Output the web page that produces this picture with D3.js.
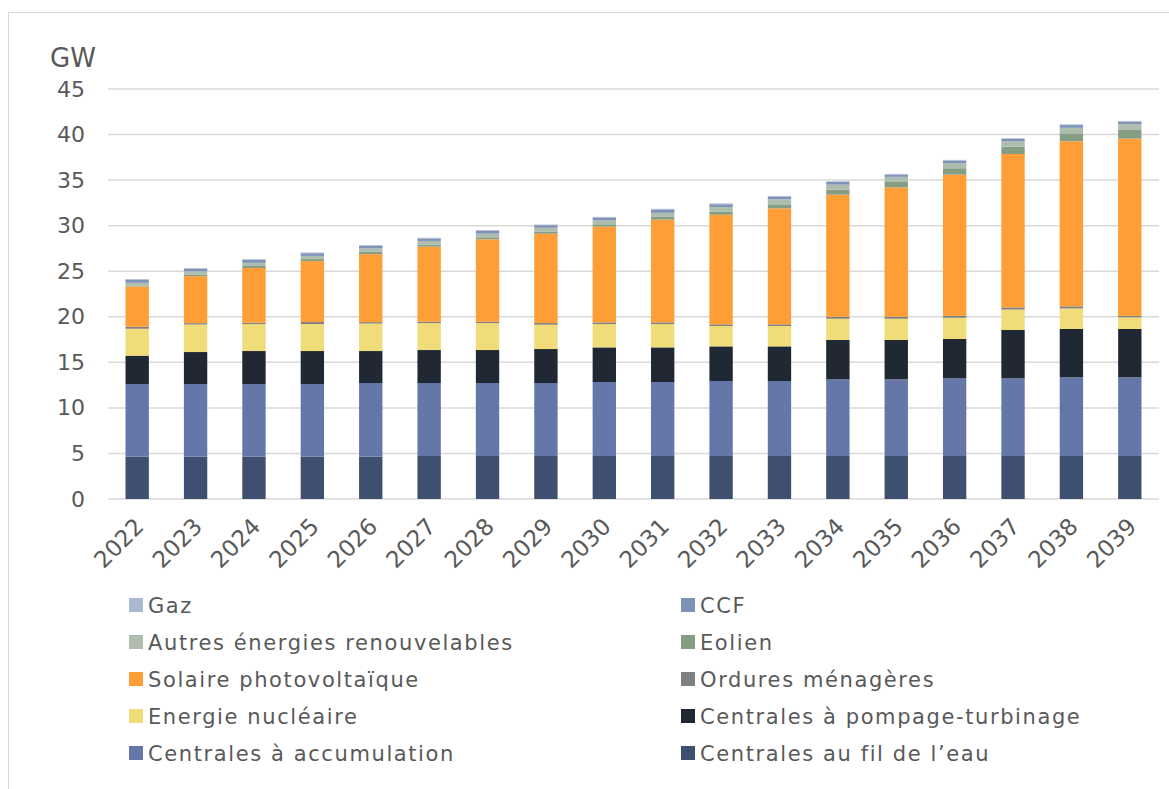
<!DOCTYPE html>
<html>
<head>
<meta charset="utf-8">
<script src="https://cdn.jsdelivr.net/npm/d3@7"></script>
<style>
  body { margin: 0; background: #fff; }
  svg { font-family: "DejaVu Sans", Verdana, sans-serif; }
</style>
</head>
<body>
<svg id="chart" width="1169" height="789"></svg>
<script>
// years on the x axis
let years = ["2022","2023","2024","2025","2026","2027","2028","2029","2030",
             "2031","2032","2033","2034","2035","2036","2037","2038","2039"];

// installed capacity, GW
let filEau       = [4.64,4.64,4.64,4.64,4.66,4.72,4.72,4.72,4.72,4.72,4.72,4.72,4.72,4.72,4.72,4.72,4.72,4.72];
let accumulation = [7.98,7.98,7.98,7.98,8.07,8.01,8.01,8.01,8.12,8.12,8.23,8.23,8.41,8.41,8.52,8.52,8.63,8.63];
let pompage      = [3.11,3.51,3.62,3.62,3.51,3.62,3.62,3.73,3.80,3.80,3.80,3.80,4.32,4.32,4.32,5.31,5.31,5.31];
let nucleaire    = [2.96,3.02,2.96,2.96,3.02,2.96,2.96,2.67,2.56,2.56,2.24,2.24,2.34,2.34,2.34,2.25,2.26,1.28];
let ordures      = [0.22,0.15,0.15,0.22,0.15,0.15,0.15,0.18,0.18,0.18,0.18,0.18,0.21,0.21,0.2,0.23,0.22,0.16];
let solaire      = [4.42,5.16,6.00,6.69,7.46,8.24,9.04,9.81,10.52,11.28,12.03,12.73,13.40,14.20,15.50,16.84,18.12,19.46];
let eolien       = [0.10,0.18,0.22,0.22,0.26,0.22,0.22,0.20,0.25,0.30,0.35,0.44,0.55,0.59,0.70,0.80,0.88,0.95];
let autres       = [0.30,0.35,0.35,0.35,0.37,0.40,0.40,0.45,0.45,0.45,0.50,0.55,0.55,0.57,0.57,0.59,0.60,0.64];
let ccf          = [0.33,0.28,0.33,0.30,0.30,0.28,0.30,0.28,0.28,0.32,0.30,0.30,0.30,0.25,0.28,0.26,0.30,0.26];
let gaz          = [0.08,0.08,0.07,0.07,0.07,0.07,0.09,0.07,0.09,0.12,0.09,0.07,0.07,0.07,0.07,0.07,0.07,0.09];

let yTicks = [0,5,10,15,20,25,30,35,40,45];

// bottom to top
let series = [
  { key: "fil", name: "Centrales au fil de l\u2019eau", values: filEau, color: "#3f4f6f" },
  { key: "acc", name: "Centrales à accumulation", values: accumulation, color: "#6577a9" },
  { key: "pomp", name: "Centrales à pompage-turbinage", values: pompage, color: "#1f2833" },
  { key: "nuc", name: "Energie nucléaire", values: nucleaire, color: "#f0dc78" },
  { key: "ord", name: "Ordures ménagères", values: ordures, color: "#7f7f7f" },
  { key: "sol", name: "Solaire photovoltaïque", values: solaire, color: "#ff9e36" },
  { key: "eol", name: "Eolien", values: eolien, color: "#849d83" },
  { key: "aut", name: "Autres énergies renouvelables", values: autres, color: "#aebdad" },
  { key: "ccf", name: "CCF", values: ccf, color: "#7f93b8" },
  { key: "gaz", name: "Gaz", values: gaz, color: "#aab7d1" }
];

let rows = years.map(function (y, i) {
  let r = { year: y };
  series.forEach(function (s) { r[s.key] = s.values[i]; });
  return r;
});

let svg = d3.select("#chart");

// outer frame
svg.append("rect")
  .attr("x", 8.5).attr("y", 12.5)
  .attr("width", 1200).attr("height", 800)
  .attr("fill", "none").attr("stroke", "#d9d9d9").attr("stroke-width", 1);

let x = d3.scaleBand().domain(years).range([108, 1159]).paddingInner(0.6).paddingOuter(0.3);
let y = d3.scaleLinear().domain([0, 45]).range([499, 89]);

// gridlines
svg.append("g").selectAll("line")
  .data(yTicks)
  .join("line")
  .attr("x1", 108).attr("x2", 1159)
  .attr("y1", function (d) { return y(d); })
  .attr("y2", function (d) { return y(d); })
  .attr("stroke", "#d9d9d9").attr("stroke-width", 1.5);

// y axis labels
let yAxis = d3.axisLeft(y).tickValues(yTicks).tickSize(0).tickPadding(23);
svg.append("g")
  .attr("transform", "translate(108,0)")
  .call(yAxis)
  .call(function (g) { g.select(".domain").remove(); })
  .selectAll("text")
  .attr("font-size", 22).attr("fill", "#595959")
  .attr("font-family", "DejaVu Sans, Verdana, sans-serif");

svg.append("text")
  .attr("x", 50).attr("y", 67)
  .attr("font-size", 26).attr("fill", "#595959")
  .text("GW");

// stacked bars
let stack = d3.stack().keys(series.map(function (s) { return s.key; }));
let layers = stack(rows);

svg.append("g").selectAll("g")
  .data(layers)
  .join("g")
  .attr("fill", function (d, i) { return series[i].color; })
  .selectAll("rect")
  .data(function (d) { return d; })
  .join("rect")
  .attr("x", function (d) { return x(d.data.year); })
  .attr("width", x.bandwidth())
  .attr("y", function (d) { return y(d[1]); })
  .attr("height", function (d) { return y(d[0]) - y(d[1]); });

// x axis labels, rotated
let xAxis = d3.axisBottom(x).tickSize(0).tickPadding(0);
svg.append("g")
  .attr("transform", "translate(0,499)")
  .call(xAxis)
  .call(function (g) { g.select(".domain").remove(); })
  .selectAll("text")
  .attr("font-size", 23).attr("fill", "#595959")
  .attr("font-family", "DejaVu Sans, Verdana, sans-serif")
  .attr("text-anchor", "end")
  .attr("dy", 0)
  .attr("transform", "translate(8,29) rotate(-45)");

// legend, two columns, order as in the picture
let legendOrder = ["gaz","ccf","aut","eol","sol","ord","nuc","pomp","acc","fil"];
let legend = svg.append("g").selectAll("g")
  .data(legendOrder.map(function (k) { return series.find(function (s) { return s.key === k; }); }))
  .join("g")
  .attr("transform", function (d, i) {
    let col = i % 2, row = Math.floor(i / 2);
    return "translate(" + (col === 0 ? 129 : 681) + "," + (605 + row * 37) + ")";
  });

legend.append("rect")
  .attr("x", 0).attr("y", -7)
  .attr("width", 14).attr("height", 14)
  .attr("fill", function (d) { return d.color; });

legend.append("text")
  .attr("x", 19).attr("y", 0)
  .attr("dy", "0.36em")
  .attr("font-size", 21).attr("fill", "#595959")
  .attr("letter-spacing", "1.6px")
  .text(function (d) { return d.name; });
</script>
</body>
</html>
